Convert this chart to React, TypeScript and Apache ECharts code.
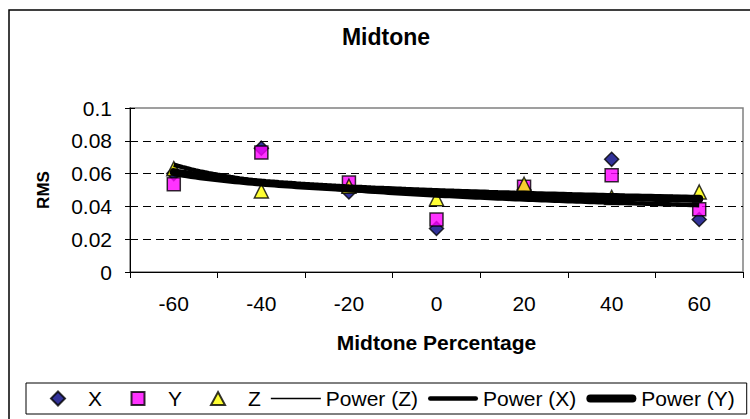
import React, { useEffect, useRef } from "react";
import * as echarts from "echarts";

// Midtone percentage categories and the RMS measured for each channel
const categories = ["-60", "-40", "-20", "0", "20", "40", "60"];
const seriesX = [0.06, 0.0755, 0.0488, 0.0265, 0.05, 0.0687, 0.032];
const seriesY = [0.0535, 0.0728, 0.0545, 0.032, 0.052, 0.059, 0.0382];
const seriesZ = [0.063, 0.0494, 0.0523, 0.0447, 0.0535, 0.0455, 0.0488];
const yTicks = [0, 0.02, 0.04, 0.06, 0.08, 0.1];

const FONT = '"Liberation Sans", Arial, Helvetica, sans-serif';

// Power trendline y = a * x^b fitted on ln/ln scale, x being the 1-based category position
function powerFit(values: number[]) {
  const n = values.length;
  let sx = 0, sy = 0, sxx = 0, sxy = 0;
  values.forEach((v, i) => {
    const lx = Math.log(i + 1);
    const ly = Math.log(v);
    sx += lx; sy += ly; sxx += lx * lx; sxy += lx * ly;
  });
  const b = (n * sxy - sx * sy) / (n * sxx - sx * sx);
  const a = Math.exp((sy - b * sx) / n);
  return { a, b };
}

function trendCurve(values: number[]) {
  const { a, b } = powerFit(values);
  const steps = 120;
  const pts: number[][] = [];
  for (let k = 0; k <= steps; k++) {
    const x = 1 + (k * (values.length - 1)) / steps;
    pts.push([x, a * Math.pow(x, b)]);
  }
  return pts;
}

// Legend glyphs spanning the whole 50px slot: the marker sits in the middle,
// two zero-length anchors at the slot ends keep every item equally wide.
const SLOT = "M0,7L0,7M50,7L50,7";
const ICON_DIAMOND = `path://${SLOT}M25,0L32,7L25,14L18,7Z`;
const ICON_SQUARE = `path://${SLOT}M18.5,0.5H31.5V13.5H18.5Z`;
const ICON_TRIANGLE = `path://${SLOT}M25,0.5L32,13.5H18Z`;
const ICON_THIN = "path://M0,0H50V1.5H0Z";
const ICON_MEDIUM = "path://M2.25,0H47.75A2.25,2.25,0,0,1,47.75,4.5H2.25A2.25,2.25,0,0,1,2.25,0Z";
const ICON_THICK = "path://M4,0H46A4,4,0,0,1,46,8H4A4,4,0,0,1,4,0Z";

export default function App() {
  const ref = useRef<HTMLDivElement>(null);

  useEffect(() => {
    if (!ref.current) return;
    const chart = echarts.init(ref.current, null, { renderer: "svg" });

    const markerBorder = { borderColor: "#000", borderWidth: 1.5 };

    chart.setOption({
      animation: false,
      backgroundColor: "#fff",
      title: {
        text: "Midtone",
        left: 386,
        top: 25,
        padding: 0,
        textAlign: "center",
        textStyle: { fontSize: 23, fontWeight: "bold", fontFamily: FONT, color: "#000" },
      },
      graphic: [
        {
          type: "rect",
          silent: true,
          z: -10,
          shape: { x: 9, y: 10, width: 800, height: 450 },
          style: { fill: "none", stroke: "#000", lineWidth: 1.5 },
        },
      ],
      grid: {
        left: 130,
        right: 7,
        top: 108,
        bottom: 147,
        show: true,
        backgroundColor: "#fff",
        borderColor: "#808080",
        borderWidth: 1.5,
        outerBoundsMode: "none",
      },
      legend: {
        data: [
          { name: "X", icon: ICON_DIAMOND },
          { name: "Y", icon: ICON_SQUARE },
          { name: "Z", icon: ICON_TRIANGLE },
          { name: "Power (Z)", icon: ICON_THIN },
          { name: "Power (X)", icon: ICON_MEDIUM },
          { name: "Power (Y)", icon: ICON_THICK },
        ],
        left: 26,
        top: 383,
        width: 730,
        orient: "horizontal",
        itemWidth: 50,
        itemHeight: 14,
        itemGap: 10,
        symbolKeepAspect: true,
        padding: [5, 12, 5, 6],
        borderColor: "#000",
        borderWidth: 1,
        backgroundColor: "#fff",
        selectedMode: false,
        textStyle: { fontSize: 21, fontFamily: FONT, color: "#000" },
      },
      xAxis: [
        {
          type: "category",
          data: categories,
          boundaryGap: true,
          position: "bottom",
          axisLine: { show: true, lineStyle: { color: "#000", width: 1 } },
          axisTick: { show: true, length: 6, lineStyle: { color: "#000" } },
          axisLabel: { fontSize: 21, fontFamily: FONT, color: "#000", margin: 21 },
          splitLine: { show: false },
          name: "Midtone Percentage",
          nameLocation: "middle",
          nameGap: 60,
          nameTextStyle: { fontSize: 21, fontWeight: "bold", fontFamily: FONT, color: "#000" },
        },
        { type: "value", min: 0.5, max: 7.5, show: false },
      ],
      yAxis: [
        {
          type: "value",
          min: yTicks[0],
          max: yTicks[yTicks.length - 1],
          interval: 0.02,
          axisLine: { show: true, lineStyle: { color: "#000", width: 1 } },
          axisTick: { show: true, length: 5, lineStyle: { color: "#000" } },
          axisLabel: {
            fontSize: 21,
            fontFamily: FONT,
            color: "#000",
            margin: 18,
            formatter: (v: number) => String(Number(v.toFixed(2))),
          },
          splitLine: {
            show: true,
            showMinLine: false,
            showMaxLine: false,
            lineStyle: { color: "#000", width: 1, type: [8, 5] },
          },
          name: "RMS",
          nameLocation: "middle",
          nameGap: 78,
          nameRotate: 90,
          nameTextStyle: { fontSize: 17, fontWeight: "bold", fontFamily: FONT, color: "#000" },
        },
        {
          // inner half of the cross tick marks
          type: "value",
          position: "left",
          min: yTicks[0],
          max: yTicks[yTicks.length - 1],
          interval: 0.02,
          axisLine: { show: false },
          axisTick: { show: true, inside: true, length: 5, lineStyle: { color: "#000" } },
          axisLabel: { show: false },
          splitLine: { show: false },
        },
      ],
      series: [
        {
          name: "X",
          type: "scatter",
          symbol: "diamond",
          symbolSize: 14,
          data: seriesX,
          itemStyle: { color: "#000080", ...markerBorder },
          z: 2,
        },
        {
          name: "Y",
          type: "scatter",
          symbol: "rect",
          symbolSize: 13,
          data: seriesY,
          itemStyle: { color: "#FF00FF", ...markerBorder },
          z: 2,
        },
        {
          name: "Z",
          type: "scatter",
          symbol: "triangle",
          symbolSize: 14,
          data: seriesZ,
          itemStyle: { color: "#FFFF00", ...markerBorder },
          z: 2,
        },
        {
          name: "Power (Z)",
          type: "line",
          xAxisIndex: 1,
          symbol: "none",
          showSymbol: false,
          data: trendCurve(seriesZ),
          lineStyle: { color: "#000", width: 1.5 },
          itemStyle: { color: "#000" },
          z: 3,
        },
        {
          name: "Power (X)",
          type: "line",
          xAxisIndex: 1,
          symbol: "none",
          showSymbol: false,
          data: trendCurve(seriesX),
          lineStyle: { color: "#000", width: 4.5 },
          itemStyle: { color: "#000" },
          z: 3,
        },
        {
          name: "Power (Y)",
          type: "line",
          xAxisIndex: 1,
          symbol: "none",
          showSymbol: false,
          data: trendCurve(seriesY),
          lineStyle: { color: "#000", width: 8, cap: "round" },
          itemStyle: { color: "#000" },
          z: 3,
        },
      ],
    });

    return () => chart.dispose();
  }, []);

  return (
    <div
      ref={ref}
      style={{ position: "fixed", left: 0, top: 0, width: 750, height: 419, background: "#fff" }}
    />
  );
}
